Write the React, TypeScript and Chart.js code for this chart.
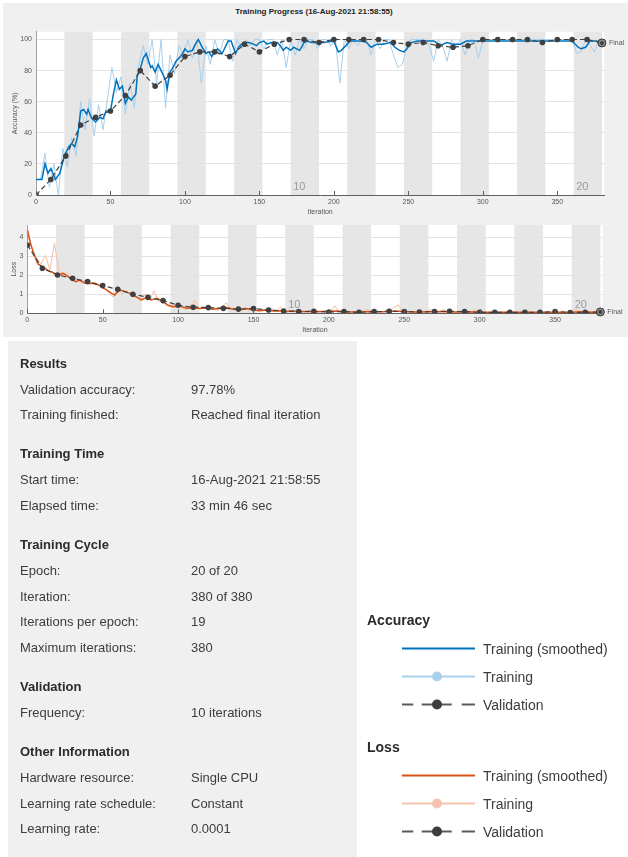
import React, { useEffect, useRef } from "react";
import Chart from "chart.js/auto";

// ---------------- data ----------------
const TITLE = "Training Progress (16-Aug-2021 21:58:55)";
const ITERS_PER_EPOCH = 19;
const NUM_EPOCHS = 20;
const X_MAX = 381.5;
const epochLabels = ["10", "20"];
const epochLabelEpochs = [10, 20];

const valIter = [0, 10, 20, 30, 40, 50, 60, 70, 80, 90, 100, 110, 120, 130, 140, 150, 160, 170, 180, 190, 200, 210, 220, 230, 240, 250, 260, 270, 280, 290, 300, 310, 320, 330, 340, 350, 360, 370, 380];
const valAcc = [0, 10, 25, 45, 50, 54, 64, 80, 70, 77, 89, 92, 92, 89, 97, 92, 97, 100, 100, 98, 100, 100, 100, 100, 98, 97, 98, 96, 95, 96, 100, 100, 100, 100, 98, 100, 100, 100, 97.78];
const valLoss = [3.6, 2.37, 2.02, 1.84, 1.67, 1.46, 1.26, 1.0, 0.84, 0.67, 0.42, 0.32, 0.3, 0.26, 0.22, 0.25, 0.17, 0.12, 0.09, 0.1, 0.07, 0.09, 0.05, 0.09, 0.1, 0.09, 0.07, 0.09, 0.1, 0.09, 0.05, 0.05, 0.05, 0.05, 0.05, 0.09, 0.04, 0.05, 0.07];

const smoothAccIter = [0, 4, 6, 8, 10, 13, 16, 19, 22, 24, 26, 28, 30, 32, 34, 35, 37, 40, 43, 45, 47, 50, 52, 54, 56, 58, 60, 62, 64, 67, 68, 70, 72, 74, 77, 78, 80, 82, 84, 87, 88, 90, 92, 94, 97, 99, 100, 102, 105, 107, 109, 111, 114, 116, 118, 120, 122, 125, 127, 129, 131, 134, 136, 138, 140, 143, 146, 148, 150, 153, 155, 158, 162, 164, 166, 168, 171, 173, 175, 177, 180, 182, 185, 189, 193, 200, 203, 205, 209, 211, 220, 222, 225, 229, 233, 238, 241, 244, 247, 249, 252, 256, 267, 269, 271, 276, 280, 285, 289, 294, 300, 320, 340, 360, 364, 366, 369, 372, 376, 380];
const smoothAcc = [10, 10, 20, 14, 17, 10, 14, 25, 31, 33, 31, 38, 54, 55, 52, 55, 50, 47, 50, 49, 54, 54, 65, 74, 68, 70, 59, 63, 61, 65, 77, 81, 88, 91, 82, 83, 79, 84, 80, 74, 68, 79, 82, 86, 89, 92, 94, 92, 93, 97, 100, 96, 91, 92, 89, 92, 94, 91, 95, 99, 99, 91, 95, 97, 98, 98, 97, 96, 98, 99, 97, 98, 98, 96, 93, 95, 93, 95, 94, 93, 98, 99, 98, 98, 98, 99, 92, 93, 97, 99, 99, 98, 95, 97, 97, 98, 95, 93, 92, 94, 98, 99, 99, 98, 96, 98, 97, 97, 99, 99, 99, 99, 99, 99, 95, 94, 95, 99, 99, 98];

const smoothLossIter = [0, 2, 4, 7, 11, 14, 17, 20, 24, 27, 32, 35, 38, 43, 47, 52, 56, 58, 61, 65, 68, 72, 76, 79, 82, 86, 90, 93, 97, 101, 106, 110, 114, 119, 123, 128, 132, 137, 141, 145, 150, 154, 159, 163, 168, 172, 176, 181, 185, 190, 198, 205, 212, 220, 228, 236, 244, 250, 258, 266, 275, 283, 292, 300, 310, 320, 330, 340, 350, 360, 367, 374, 380];
const smoothLoss = [4.4, 3.7, 3.2, 2.6, 2.4, 2.25, 2.15, 2.0, 2.1, 1.93, 1.67, 1.75, 1.58, 1.58, 1.5, 1.26, 1.05, 0.96, 1.23, 1.14, 1.05, 0.88, 0.7, 0.84, 0.7, 0.79, 0.61, 0.44, 0.35, 0.39, 0.26, 0.3, 0.25, 0.28, 0.21, 0.26, 0.3, 0.21, 0.18, 0.25, 0.18, 0.14, 0.18, 0.12, 0.14, 0.1, 0.12, 0.09, 0.1, 0.09, 0.1, 0.12, 0.08, 0.07, 0.09, 0.08, 0.12, 0.1, 0.07, 0.08, 0.09, 0.07, 0.08, 0.06, 0.05, 0.05, 0.06, 0.05, 0.06, 0.05, 0.08, 0.06, 0.06];

// raw (unsmoothed) training values, one every RAW_STEP iterations from 0
const RAW_STEP = 3;
const rawAcc = [
  10, 10, 27, 5, 20, 0, 30, 18, 37, 25,
  60, 42, 62, 38, 58, 42, 62, 82, 66, 76,
  52, 72, 56, 84, 96, 84, 100, 72, 100, 56,
  90, 78, 96, 90, 100, 88, 100, 72, 96, 84,
  100, 90, 100, 100, 86, 100, 94, 100, 96, 100,
  100, 94, 100, 100, 90, 100, 82, 100, 90, 100,
  94, 100, 100, 94, 100, 100, 96, 100, 72, 100,
  94, 100, 96, 100, 100, 90, 100, 94, 100, 100,
  90, 82, 84, 96, 100, 100, 100, 100, 96, 86,
  100, 96, 86, 100, 96, 100, 90, 100, 100, 88,
  100, 100, 100, 100, 100, 100, 100, 100, 100, 100,
  100, 100, 100, 100, 100, 100, 100, 100, 100, 100,
  100, 91, 92, 100, 96, 92, 100,
];
const rawLoss = [
  4.45, 3.5, 2.9, 2.6, 3.05, 2.3, 3.7, 2.2, 2.1, 2.05,
  1.7, 1.85, 1.6, 1.75, 1.5, 1.65, 1.4, 1.3, 1.1, 0.85,
  1.35, 1.0, 1.2, 0.9, 0.85, 0.65, 1.0, 0.7, 1.2, 0.6,
  0.8, 0.4, 0.3, 0.5, 0.3, 0.2, 0.4, 0.7, 0.2, 0.35,
  0.2, 0.3, 0.15, 0.35, 0.55, 0.15, 0.2, 0.1, 0.3, 0.15,
  0.2, 0.1, 0.2, 0.1, 0.25, 0.1, 0.35, 0.05, 0.15, 0.05,
  0.1, 0.08, 0.05, 0.12, 0.05, 0.08, 0.15, 0.05, 0.4, 0.05,
  0.1, 0.05, 0.08, 0.04, 0.1, 0.2, 0.05, 0.1, 0.05, 0.1,
  0.15, 0.3, 0.45, 0.1, 0.05, 0.06, 0.03, 0.05, 0.1, 0.2,
  0.04, 0.08, 0.2, 0.05, 0.08, 0.04, 0.15, 0.04, 0.05, 0.2,
  0.03, 0.04, 0.05, 0.03, 0.04, 0.06, 0.03, 0.04, 0.05, 0.03,
  0.04, 0.05, 0.03, 0.04, 0.06, 0.03, 0.04, 0.05, 0.03, 0.04,
  0.05, 0.2, 0.15, 0.06, 0.08, 0.12, 0.05,
];

const panelSections: { title: string; rows: [string, string][] }[] = [
  { title: "Results", rows: [["Validation accuracy:", "97.78%"], ["Training finished:", "Reached final iteration"]] },
  { title: "Training Time", rows: [["Start time:", "16-Aug-2021 21:58:55"], ["Elapsed time:", "33 min 46 sec"]] },
  { title: "Training Cycle", rows: [["Epoch:", "20 of 20"], ["Iteration:", "380 of 380"], ["Iterations per epoch:", "19"], ["Maximum iterations:", "380"]] },
  { title: "Validation", rows: [["Frequency:", "10 iterations"]] },
  { title: "Other Information", rows: [["Hardware resource:", "Single CPU"], ["Learning rate schedule:", "Constant"], ["Learning rate:", "0.0001"]] },
];

const legendGroups = [
  { title: "Accuracy", smooth: "#0072BD", raw: "#a9d1ee" },
  { title: "Loss", smooth: "#D95319", raw: "#f5c4ae" },
];
const legendLabels = ["Training (smoothed)", "Training", "Validation"];

// ---------------- styles ----------------
const FONT = '"Liberation Sans", Arial, Helvetica, sans-serif';
const VAL_COLOR = "#404040";

const toXY = (xs: number[], ys: number[]) => xs.map((x, i) => ({ x, y: ys[i] }));
const rawXY = (ys: number[]) => ys.map((y, i) => ({ x: i * RAW_STEP, y }));

function makePlugin(finalValue: number, labelOffset: number) {
  return {
    id: "trainingDecor",
    beforeDraw(chart: any) {
      const { ctx, chartArea: a, scales } = chart;
      const x = scales.x;
      ctx.save();
      ctx.fillStyle = "#ffffff";
      ctx.fillRect(a.left, a.top, a.right - a.left, a.bottom - a.top);
      ctx.fillStyle = "#e6e6e6";
      for (let e = 1; e < NUM_EPOCHS; e += 2) {
        const x0 = x.getPixelForValue(e * ITERS_PER_EPOCH);
        const x1 = x.getPixelForValue((e + 1) * ITERS_PER_EPOCH);
        ctx.fillRect(x0, a.top, x1 - x0, a.bottom - a.top);
      }
      // epoch numbers
      ctx.fillStyle = "#9a9a9a";
      ctx.font = `11px ${FONT}`;
      ctx.textBaseline = "alphabetic";
      epochLabels.forEach((t, k) => {
        const px = x.getPixelForValue((epochLabelEpochs[k] - 1) * ITERS_PER_EPOCH);
        ctx.fillText(t, px + labelOffset, a.bottom - 5);
      });
      ctx.restore();
    },
    afterDraw(chart: any) {
      const { ctx, chartArea: a, scales } = chart;
      const x = scales.x;
      const y = scales.y;
      ctx.save();
      // inward tick marks on the x axis
      ctx.strokeStyle = "#606060";
      ctx.lineWidth = 1;
      x.ticks.forEach((t: any) => {
        const px = Math.round(x.getPixelForValue(t.value)) + 0.5;
        ctx.beginPath();
        ctx.moveTo(px, a.bottom);
        ctx.lineTo(px, a.bottom - 4);
        ctx.stroke();
      });
      // final marker
      const fx = x.getPixelForValue(valIter[valIter.length - 1]);
      const fy = y.getPixelForValue(finalValue);
      ctx.beginPath();
      ctx.arc(fx, fy, 4, 0, Math.PI * 2);
      ctx.fillStyle = "#8c8c8c";
      ctx.fill();
      ctx.strokeStyle = "#333";
      ctx.lineWidth = 1;
      ctx.stroke();
      ctx.beginPath();
      ctx.arc(fx, fy, 2, 0, Math.PI * 2);
      ctx.fillStyle = "#404040";
      ctx.fill();
      ctx.fillStyle = "#555";
      ctx.font = `7px ${FONT}`;
      ctx.textBaseline = "middle";
      ctx.fillText("Final", fx + 7, fy + 0.5);
      ctx.restore();
    },
  };
}

function buildChart(
  canvas: HTMLCanvasElement,
  opts: {
    smoothIter: number[];
    smooth: number[];
    raw: number[];
    val: number[];
    smoothColor: string;
    rawColor: string;
    yMax: number;
    yStep: number;
    yTitle: string;
    yWidth: number;
    xHeight: number;
    padTop: number;
    padRight: number;
    yTitlePad: number;
    labelOffset: number;
  }
) {
  const tickFont = { family: FONT, size: 7 };
  return new Chart(canvas, {
    type: "line",
    data: {
      datasets: [
        {
          label: "Validation",
          data: toXY(valIter, opts.val),
          borderColor: VAL_COLOR,
          borderDash: [5, 3],
          borderWidth: 1.2,
          pointRadius: 2.8,
          pointBackgroundColor: VAL_COLOR,
          pointBorderWidth: 0,
          tension: 0,
        },
        {
          label: "Training (smoothed)",
          data: toXY(opts.smoothIter, opts.smooth),
          borderColor: opts.smoothColor,
          borderWidth: 1.5,
          pointRadius: 0,
          tension: 0,
        },
        {
          label: "Training",
          data: rawXY(opts.raw),
          borderColor: opts.rawColor,
          borderWidth: 1,
          pointRadius: 0,
          tension: 0,
        },
      ],
    },
    options: {
      responsive: false,
      animation: false,
      devicePixelRatio: 1,
      layout: { padding: { left: 0, right: opts.padRight, top: opts.padTop, bottom: 0 } },
      plugins: { legend: { display: false }, tooltip: { enabled: false }, title: { display: false } },
      scales: {
        x: {
          type: "linear",
          min: 0,
          max: X_MAX,
          grid: { display: false, drawTicks: false, tickLength: 0 },
          border: { display: true, color: "#606060", width: 1 },
          ticks: { stepSize: 50, includeBounds: false, font: tickFont, color: "#555", padding: 3, maxRotation: 0 },
          title: { display: true, text: "Iteration", font: tickFont, color: "#555", padding: { top: 0, bottom: 3.8 } },
          afterFit: (s: any) => {
            s.height = opts.xHeight;
          },
        },
        y: {
          type: "linear",
          min: 0,
          max: opts.yMax,
          grid: { color: "#e3e3e3", drawTicks: false, tickLength: 0, lineWidth: 1 },
          border: { display: true, color: "#a0a0a0", width: 1 },
          ticks: { stepSize: opts.yStep, includeBounds: false, font: tickFont, color: "#555", padding: 4 },
          title: { display: true, text: opts.yTitle, font: tickFont, color: "#555", padding: { top: opts.yTitlePad, bottom: 0 } },
          afterFit: (s: any) => {
            s.width = opts.yWidth;
          },
        },
      },
    },
    plugins: [makePlugin(opts.val[opts.val.length - 1], opts.labelOffset)],
  } as any);
}

function Charts() {
  const accRef = useRef<HTMLCanvasElement>(null);
  const lossRef = useRef<HTMLCanvasElement>(null);
  useEffect(() => {
    const c1 = buildChart(accRef.current!, {
      smoothIter: smoothAccIter,
      smooth: smoothAcc,
      raw: rawAcc,
      val: valAcc,
      smoothColor: "#0072BD",
      rawColor: "#a6cfee",
      yMax: 105,
      yStep: 20,
      yTitle: "Accuracy (%)",
      yWidth: 36,
      xHeight: 25,
      padTop: 31.7,
      padRight: 23.8,
      yTitlePad: 10.8,
      labelOffset: 2.5,
    });
    const c2 = buildChart(lossRef.current!, {
      smoothIter: smoothLossIter,
      smooth: smoothLoss,
      raw: rawLoss,
      val: valLoss,
      smoothColor: "#D95319",
      rawColor: "#f5bfa6",
      yMax: 4.65,
      yStep: 1,
      yTitle: "Loss",
      yWidth: 27.3,
      xHeight: 24.7,
      padTop: 10,
      padRight: 25.4,
      yTitlePad: 9.8,
      labelOffset: 3,
    });
    return () => {
      c1.destroy();
      c2.destroy();
    };
  }, []);
  return (
    <>
      <canvas ref={accRef} width={628} height={220} style={{ position: "absolute", left: 0, top: 0, width: 628, height: 220 }} />
      <canvas ref={lossRef} width={628} height={123} style={{ position: "absolute", left: 0, top: 215, width: 628, height: 123 }} />
    </>
  );
}

function Panel() {
  const items: React.ReactNode[] = [];
  let y = 364;
  panelSections.forEach((sec, si) => {
    items.push(
      <div key={`h${si}`} style={{ position: "absolute", left: 20, top: y - 8.5, fontWeight: "bold", color: "#2b2b2b", whiteSpace: "nowrap" }}>
        {sec.title}
      </div>
    );
    y += 26;
    sec.rows.forEach((r, ri) => {
      items.push(
        <div key={`l${si}-${ri}`} style={{ position: "absolute", left: 20, top: y - 8.5, whiteSpace: "nowrap" }}>
          {r[0]}
        </div>
      );
      items.push(
        <div key={`v${si}-${ri}`} style={{ position: "absolute", left: 191, top: y - 8.5, whiteSpace: "nowrap" }}>
          {r[1]}
        </div>
      );
      y += 25.5;
    });
    y += 13.8;
  });
  return (
    <div style={{ position: "absolute", left: 8, top: 341, width: 349, height: 516, background: "#f0f0f0" }}>
      <div style={{ position: "absolute", left: -8, top: -341, width: 628, height: 857, fontSize: 13, lineHeight: "16px", color: "#3c3c3c" }}>
        {items}
      </div>
    </div>
  );
}

function Legend() {
  const groupTops = [620, 747];
  const rowOffsets = [28.5, 56.5, 84.5];
  const lx0 = 402;
  const lx1 = 475;
  const mx = 437;
  return (
    <>
      <svg width={628} height={857} style={{ position: "absolute", left: 0, top: 0, pointerEvents: "none" }}>
        {legendGroups.map((g, gi) => {
          const base = groupTops[gi];
          const y0 = base + rowOffsets[0];
          const y1 = base + rowOffsets[1];
          const y2 = base + rowOffsets[2];
          return (
            <g key={gi}>
              <line x1={lx0} x2={lx1} y1={y0} y2={y0} stroke={g.smooth} strokeWidth={2} />
              <line x1={lx0} x2={lx1} y1={y1} y2={y1} stroke={g.raw} strokeWidth={2} />
              <circle cx={mx} cy={y1} r={5} fill={g.raw} />
              <line x1={lx0} x2={413.3} y1={y2} y2={y2} stroke="#5a5a5a" strokeWidth={2} />
              <line x1={421.7} x2={451.7} y1={y2} y2={y2} stroke="#5a5a5a" strokeWidth={2} />
              <line x1={461.7} x2={lx1} y1={y2} y2={y2} stroke="#5a5a5a" strokeWidth={2} />
              <circle cx={mx} cy={y2} r={5} fill="#3d3d3d" />
            </g>
          );
        })}
      </svg>
      {legendGroups.map((g, gi) => (
        <React.Fragment key={gi}>
          <div style={{ position: "absolute", left: 367, top: groupTops[gi] - 9, fontWeight: "bold", color: "#2b2b2b", whiteSpace: "nowrap" }}>
            {g.title}
          </div>
          {legendLabels.map((t, ti) => (
            <div key={ti} style={{ position: "absolute", left: 483, top: groupTops[gi] + rowOffsets[ti] - 9, whiteSpace: "nowrap" }}>
              {t}
            </div>
          ))}
        </React.Fragment>
      ))}
    </>
  );
}

export default function App() {
  useEffect(() => {
    document.body.style.margin = "0";
  }, []);
  return (
    <div style={{ position: "relative", width: 628, height: 857, overflow: "hidden", background: "#ffffff", fontFamily: FONT }}>
      <div style={{ position: "absolute", left: 3, top: 3, width: 625, height: 334, background: "#f0f0f0" }} />
      <div style={{ position: "absolute", left: 0, top: 7, width: 628, textAlign: "center", fontSize: 8, lineHeight: "10px", fontWeight: "bold", color: "#1e1e1e" }}>
        {TITLE}
      </div>
      <Charts />
      <Panel />
      <div style={{ position: "absolute", left: 0, top: 0, width: 628, height: 857, fontSize: 14, lineHeight: "18px", color: "#3c3c3c" }}>
        <Legend />
      </div>
    </div>
  );
}
